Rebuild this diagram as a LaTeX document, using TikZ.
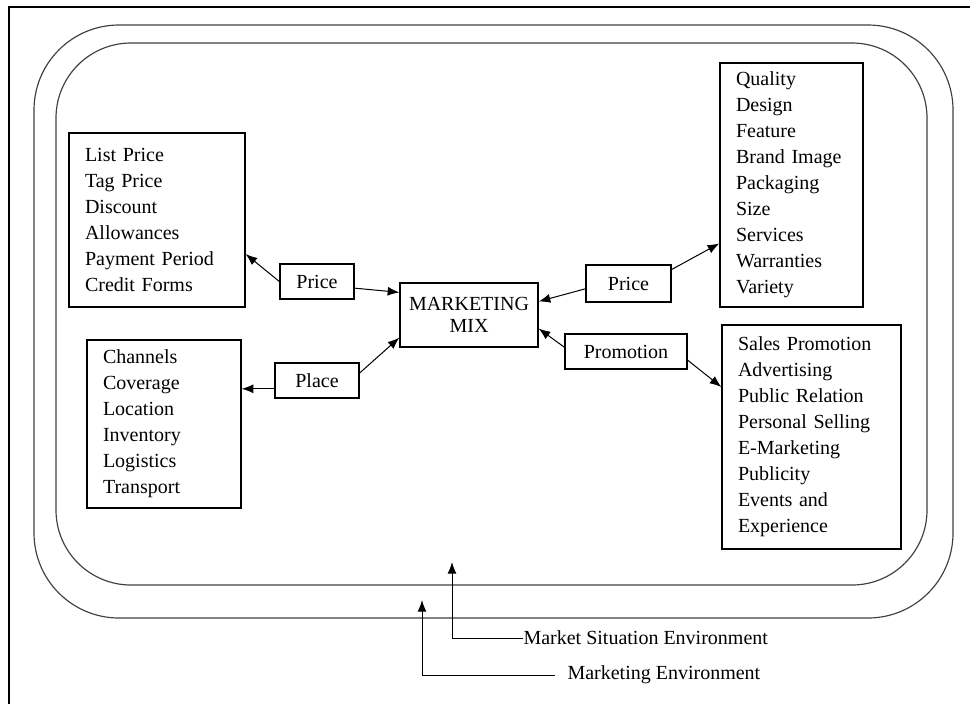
\documentclass[tikz,border=0pt]{standalone}
\usepackage{fontspec}
\setmainfont{Liberation Serif}
\usetikzlibrary{arrows.meta}

\begin{document}
\begin{tikzpicture}[x=0.6pt,y=-0.6pt,line width=.6pt,font=\fontsize{12}{15.6}\selectfont,
  box/.style={draw,line width=.8pt,inner sep=0pt,align=center},
  listbox/.style={draw,line width=.8pt,inner xsep=9.6pt,inner ysep=0pt,align=left},
  arr/.style={-{Latex[length=7pt,width=5.4pt]}},
  ring/.style={draw=black!75,line width=.7pt}]
\useasboundingbox (0,0) rectangle (970,704);
\draw[line width=1.2pt] (9,704)--(9,7)--(970,7);
\draw[ring,rounded corners=51pt] (34,25) rectangle (953,618);
\draw[ring,rounded corners=45pt] (56,43) rectangle (927,585);
\node[listbox,text width=86.4pt,minimum width=105.6pt,minimum height=104.4pt] (pricelist) at (157,220) {List Price\\Tag Price\\Discount\\Allowances\\Payment Period\\Credit Forms};
\node[listbox,text width=73.2pt,minimum width=92.4pt,minimum height=100.8pt] (placelist) at (164,424) {Channels\\Coverage\\Location\\Inventory\\Logistics\\Transport};
\node[listbox,text width=66.6pt,minimum width=85.8pt,minimum height=146.4pt] (productlist) at (791.5,185) {Quality\\Design\\Feature\\Brand Image\\Packaging\\Size\\Services\\Warranties\\Variety};
\node[listbox,text width=88.2pt,minimum width=107.4pt,minimum height=134.4pt] (promolist) at (811.5,437) {Sales Promotion\\Advertising\\Public Relation\\Personal Selling\\E-Marketing\\Publicity\\Events and\\Experience};
\node[box,minimum width=44.4pt,minimum height=21pt] (leftprice) at (317,281.5) {Price};
\node[box,minimum width=50.4pt,minimum height=21pt] (place) at (317,380.5) {Place};
\node[box,minimum width=82.8pt,minimum height=38.4pt,font=\fontsize{12}{13.2}\selectfont] (mix) at (469,315) {MARKETING\\MIX};
\node[box,minimum width=51pt,minimum height=22.2pt] (rightprice) at (628.5,283.5) {Price};
\node[box,minimum width=73.2pt,minimum height=21pt] (promo) at (626,351.5) {Promotion};
\draw[arr] (leftprice.west) -- (pricelist.-21);
\draw[arr] (leftprice.-10) -- (mix.162);
\draw[arr] (place.191) -- (place.191 -| placelist.east);
\draw[arr] (place.10) -- (mix.198);
\draw[arr] (rightprice.187) -- (mix.11);
\draw[arr] (rightprice.18) -- (productlist.219);
\draw[arr] (promo.176) -- (mix.-11);
\draw[arr] (promo.-8) -- (promolist.151);
\node[anchor=west,inner sep=0pt] (sitenv) at (523,638) {Market Situation Environment};
\coordinate (sittip) at (452,562);
\draw[arr] (sitenv.west) -| (sittip);
\node[anchor=west,inner sep=0pt] (mktenv) at (567,675) {Marketing Environment};
\coordinate (mkttip) at (422,600);
\draw[arr] ([xshift=-7.2pt]mktenv.west) -| (mkttip);
\end{tikzpicture}
\end{document}
